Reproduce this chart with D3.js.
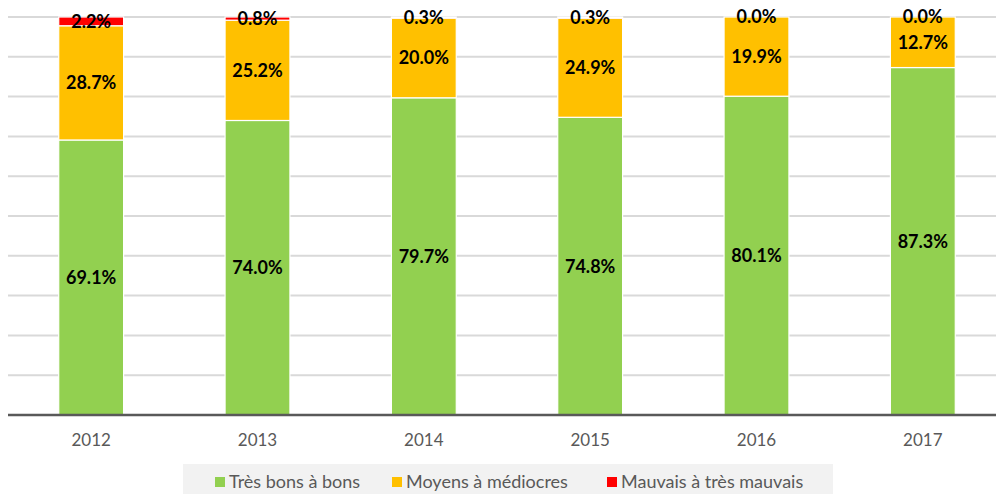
<!DOCTYPE html>
<html>
<head>
<meta charset="utf-8">
<script src="https://cdn.jsdelivr.net/npm/d3@7"></script>
<style>
body{margin:0;background:#fff;}
svg{display:block;font-family:Lato,"Open Sans",sans-serif;}
</style>
</head>
<body>
<svg id="chart" width="996" height="494"></svg>
<script>
var years = ["2012","2013","2014","2015","2016","2017"];
var tresBons = [69.1,74.0,79.7,74.8,80.1,87.3];
var moyens = [28.7,25.2,20.0,24.9,19.9,12.7];
var mauvais = [2.2,0.8,0.3,0.3,0.0,0.0];
var seriesNames = ["Très bons à bons","Moyens à médiocres","Mauvais à très mauvais"];
var colorList = ["#92d050","#ffc000","#ff0000"];
var gridTicks = [0,10,20,30,40,50,60,70,80,90,100];

var svg = d3.select("#chart");
var keys = ["a","b","c"];
var data = years.map(function(y,i){ return {year:y,a:tresBons[i],b:moyens[i],c:mauvais[i]}; });

var x = d3.scaleBand().domain(years).range([8,1006]).paddingInner(0.61).paddingOuter(0.305);
var y = d3.scaleLinear().domain([0,100]).range([415,17]);

// gridlines
svg.append("g").selectAll("line").data(gridTicks.slice(1)).enter().append("line")
	.attr("x1",8).attr("x2",996)
	.attr("y1",d=>y(d)).attr("y2",d=>y(d))
	.attr("stroke","#d9d9d9").attr("stroke-width",2);

var series = d3.stack().keys(keys)(data);

var layers = svg.selectAll("g.layer").data(series).enter().append("g")
	.attr("class","layer")
	.attr("fill",(d,i)=>colorList[i]);

layers.selectAll("rect").data(d=>d).enter().append("rect")
	.attr("x",d=>x(d.data.year))
	.attr("width",x.bandwidth())
	.attr("y",d=>y(d[1]))
	.attr("height",d=>y(d[0])-y(d[1]))
	.attr("stroke","#fff").attr("stroke-width",1.2);

// axis line
svg.append("line").attr("x1",8).attr("x2",996).attr("y1",y(0)).attr("y2",y(0))
	.attr("stroke","#595959").attr("stroke-width",2.5);

// value labels
layers.selectAll("text").data(d=>d).enter().append("text")
	.attr("x",d=>x(d.data.year)+x.bandwidth()/2)
	.attr("y",d=>(y(d[0])+y(d[1]))/2)
	.attr("dy","0.36em")
	.attr("text-anchor","middle")
	.attr("font-size",18).attr("font-weight","bold").attr("fill","#000")
	.text(d=>(d[1]-d[0]).toFixed(1)+"%");

// x labels
svg.append("g").selectAll("text").data(years).enter().append("text")
	.attr("x",d=>x(d)+x.bandwidth()/2)
	.attr("y",446)
	.attr("text-anchor","middle")
	.attr("font-size",17).attr("fill","#595959")
	.text(d=>d);

// legend
var legend = svg.append("g");
legend.append("rect").attr("x",183).attr("y",464).attr("width",650).attr("height",30).attr("fill","#f2f2f2");
var legX = [215,392,607];
seriesNames.forEach(function(n,i){
	legend.append("rect").attr("x",legX[i]).attr("y",477).attr("width",10).attr("height",10).attr("fill",colorList[i]);
	legend.append("text").attr("x",legX[i]+14).attr("y",488)
		.attr("font-size",18).attr("fill","#595959").text(n);
});
</script>
</body>
</html>
